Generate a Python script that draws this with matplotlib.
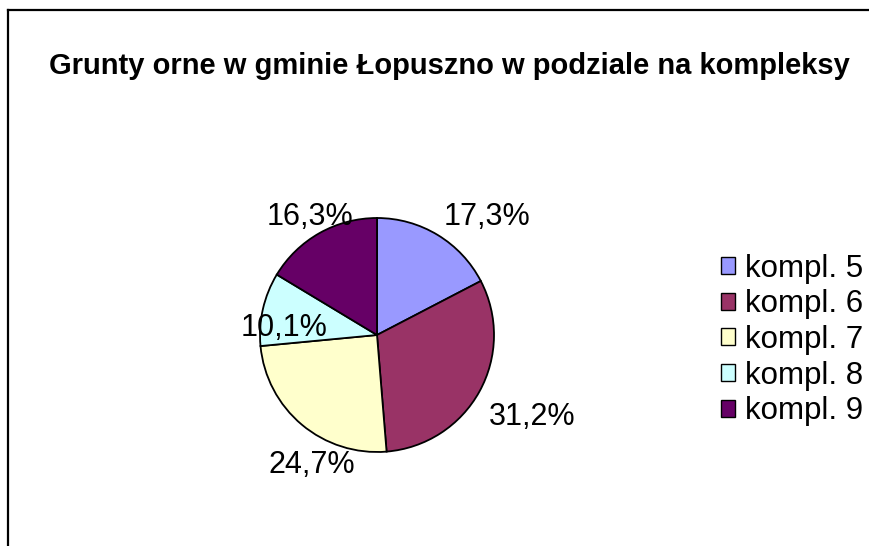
import math
import matplotlib
matplotlib.use("Agg")
import matplotlib.pyplot as plt
from matplotlib.patches import Patch
from matplotlib.lines import Line2D

plt.rcParams['font.family'] = ['Liberation Sans', 'DejaVu Sans']

title = "Grunty orne w gminie Łopuszno w podziale na kompleksy"
categories = ["kompl. 5", "kompl. 6", "kompl. 7", "kompl. 8", "kompl. 9"]
shares = [17.3, 31.2, 24.7, 10.1, 16.3]
colors = ["#9999FF", "#993366", "#FFFFCC", "#CCFFFF", "#660066"]

# label placement (radius in pie units, angle in degrees) - excel "best fit" look
label_pos = [(1.38, 47), (1.50, -28), (1.24, -116.6), (0.80, 175.7), (1.16, 119.6)]

W, H = 869, 546
fig = plt.figure(figsize=(W / 100, H / 100), dpi=100)

# chart area border (only top and left edges are visible)
fig.add_artist(Line2D([8 / W, 8 / W], [0, 1 - 10 / H], color="black", lw=1.6,
                      transform=fig.transFigure))
fig.add_artist(Line2D([8 / W, 1], [1 - 10 / H, 1 - 10 / H], color="black", lw=1.6,
                      transform=fig.transFigure))

fig.text(449 / W, 1 - 74 / H, title, ha="center", va="baseline",
         fontsize=21, fontweight="bold")

cx, cy, r = 377, 335, 117
ax = fig.add_axes([(cx - r) / W, (H - cy - r) / H, 2 * r / W, 2 * r / H])
wedges, texts, autotexts = ax.pie(
    shares, colors=colors, startangle=90, counterclock=False,
    wedgeprops=dict(edgecolor="black", linewidth=1.3),
    autopct=lambda p: "", pctdistance=1.3)
ax.set_xlim(-1, 1)
ax.set_ylim(-1, 1)
ax.set_aspect("equal")
ax.axis("off")
for w in wedges:
    w.set_clip_on(False)

for t, v, (d, a) in zip(autotexts, shares, label_pos):
    t.set_text(f"{v:.1f}%".replace(".", ","))
    t.set_position((d * math.cos(math.radians(a)), d * math.sin(math.radians(a))))
    t.set_fontsize(22)
    t.set_ha("center")
    t.set_va("center")
    t.set_clip_on(False)

handles = [Patch(facecolor=c, edgecolor="black", linewidth=1.0) for c in colors]
fig.legend(handles, categories, loc="center left",
           bbox_to_anchor=(721 / W, 1 - 340 / H), frameon=False,
           fontsize=22.5, borderpad=0, borderaxespad=0,
           handlelength=0.46, handleheight=0.46, handletextpad=0.3,
           labelspacing=0.18)

fig.savefig("out.png", dpi=100)
